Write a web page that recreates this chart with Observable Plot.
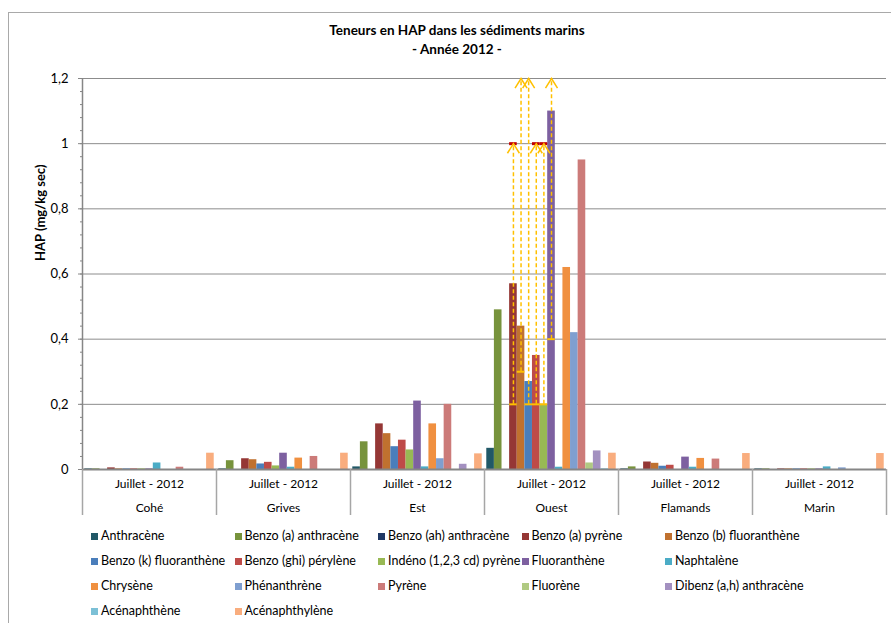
<!DOCTYPE html>
<html>
<head>
<meta charset="utf-8">
<script src="https://cdn.jsdelivr.net/npm/d3@7"></script>
<script src="https://cdn.jsdelivr.net/npm/@observablehq/plot@0.6"></script>
<style>
  body { margin: 0; background: #fff; }
  #wrap { position: relative; width: 891px; height: 623px; overflow: hidden; font-family: Lato, "Open Sans", sans-serif; color: #000; }
  #wrap svg { position: absolute; left: 0; top: 0; }
  #border { position: absolute; left: 8px; top: 12px; width: 1000px; height: 1000px; border-top: 1.5px solid #a9a9a9; border-left: 1.5px solid #a9a9a9; pointer-events: none; }
  #title { position: absolute; left: 0; top: 21px; width: 914px; text-align: center; font-weight: bold; font-size: 13.5px; line-height: 19px; }
  .leg { position: absolute; font-size: 12.5px; line-height: 14px; white-space: nowrap; }
  .leg i { position: absolute; left: 0; top: 3.5px; width: 7px; height: 7px; }
  .leg span { position: absolute; left: 10px; top: 0; }
</style>
</head>
<body>
<div id="wrap">
  <div id="title"></div>
  <div id="legend"></div>
</div>
<script>
// ---- data ----
const titleLines = ["Teneurs en HAP dans les sédiments marins", "- Année 2012 -"];
const yLabel = "HAP (mg/kg sec)";
const periodLabel = "Juillet - 2012";
const sites = ["Cohé", "Grives", "Est", "Ouest", "Flamands", "Marin"];
const compounds = [
  "Anthracène", "Benzo (a) anthracène", "Benzo (ah) anthracène", "Benzo (a) pyrène",
  "Benzo (b) fluoranthène", "Benzo (k) fluoranthène", "Benzo (ghi) pérylène",
  "Indéno (1,2,3 cd) pyrène", "Fluoranthène", "Naphtalène", "Chrysène", "Phénanthrène",
  "Pyrène", "Fluorène", "Dibenz (a,h) anthracène", "Acénaphthène", "Acénaphthylène"
];
const colors = [
  "#215867", "#77933C", "#1F3864", "#953735", "#C0712F", "#4A7EBB", "#BE4B48",
  "#98B954", "#7D60A0", "#4BACC6", "#F09040", "#7F9FD0", "#CC7B79", "#B0CA82",
  "#A390C0", "#7CC0D6", "#F9AD7E"
];
// values per site, in compound order (mg/kg sec)
const valCohe     = [0.002, 0.002, 0, 0.005, 0.002, 0.002, 0.002, 0.002, 0.002, 0.02, 0, 0, 0.007, 0, 0, 0, 0.05];
const valGrives   = [0.002, 0.027, 0, 0.033, 0.03, 0.017, 0.022, 0.011, 0.05, 0.007, 0.035, 0, 0.04, 0, 0, 0, 0.05];
const valEst      = [0.008, 0.085, 0, 0.14, 0.11, 0.07, 0.09, 0.06, 0.21, 0.008, 0.14, 0.033, 0.2, 0, 0.016, 0, 0.048];
const valOuest    = [0.065, 0.49, 0, 0.57, 0.44, 0.27, 0.35, 0.2, 1.1, 0.007, 0.62, 0.42, 0.95, 0.02, 0.057, 0.002, 0.05];
const valFlamands = [0.002, 0.008, 0, 0.023, 0.019, 0.01, 0.013, 0, 0.038, 0.007, 0.034, 0, 0.032, 0, 0, 0, 0.049];
const valMarin    = [0.002, 0.002, 0, 0.002, 0.002, 0.002, 0.002, 0.002, 0.002, 0.008, 0, 0.005, 0, 0, 0, 0, 0.049];
const yTicks = [0, 0.2, 0.4, 0.6, 0.8, 1, 1.2];
// annotation arrows (Ouest)
const annotSite = "Ouest";
const annotCompounds = ["Benzo (a) pyrène", "Benzo (b) fluoranthène", "Benzo (k) fluoranthène", "Benzo (ghi) pérylène", "Indéno (1,2,3 cd) pyrène", "Fluoranthène"];
const annotLow  = [0.2, 0.3, 0.2, 0.2, 0.2, 0.4];
const annotHigh = [1.0, 1.2, 1.2, 1.0, 1.0, 1.2];
const redCompounds = ["Benzo (a) pyrène", "Benzo (ghi) pérylène", "Indéno (1,2,3 cd) pyrène"];
const redLevel = 1.0;

// ---- build ----
const siteValues = [valCohe, valGrives, valEst, valOuest, valFlamands, valMarin];
const rows = [];
sites.forEach((s, i) => compounds.forEach((c, j) => rows.push({site: s, compound: c, value: siteValues[i][j]})));
const annot = annotCompounds.map((c, i) => ({site: annotSite, compound: c, lo: annotLow[i], hi: annotHigh[i]}));
const reds = redCompounds.map(c => ({site: annotSite, compound: c, v: redLevel}));

const W = 891, H = 623, ML = 82, MR = 5, MT = 78, MB = 154, PO = 0.3;
const facetW = (W - ML - MR) / sites.length;
const bw = facetW / (compounds.length + 2 * PO);
const edge = bw * (0.5 + PO);
const plotH = H - MT - MB;

const chevron = {
  draw(ctx, size) {
    const r = Math.sqrt(size / Math.PI);
    ctx.moveTo(-r, r * 1.6);
    ctx.lineTo(0, 0);
    ctx.lineTo(r, r * 1.6);
  }
};

const yfmt = d => String(+d.toFixed(2)).replace(".", ",");

const chart = Plot.plot({
  width: W, height: H,
  marginLeft: ML, marginRight: MR, marginTop: MT, marginBottom: MB,
  style: {fontFamily: "Lato, 'Open Sans', sans-serif", fontSize: "12px", background: "transparent", color: "#000", overflow: "visible"},
  fx: {domain: sites, padding: 0, round: false},
  x: {domain: compounds, paddingInner: 0, paddingOuter: PO, round: false, axis: null},
  y: {domain: [0, 1.2]},
  color: {domain: compounds, range: colors},
  marks: [
    Plot.gridY({ticks: yTicks.slice(1), stroke: "#8c8c8c", strokeOpacity: 1}),
    Plot.barY(rows, {fx: "site", x: "compound", y: "value", fill: "compound"}),
    Plot.ruleY([0], {stroke: "#868686", strokeWidth: 2}),
    // y axis line
    Plot.ruleX([sites[0]], {fx: d => d, x: () => compounds[0], dx: -edge, stroke: "#868686", strokeWidth: 1.5}),
    // category separators below the axis
    Plot.ruleX(sites, {fx: d => d, x: () => compounds[0], dx: -edge, insetTop: plotH, insetBottom: -46, stroke: "#a6a6a6", strokeWidth: 1.5}),
    Plot.ruleX([sites[sites.length - 1]], {fx: d => d, x: () => compounds[compounds.length - 1], dx: edge, insetTop: plotH, insetBottom: -46, stroke: "#a6a6a6", strokeWidth: 1.5}),
    Plot.axisY({interval: 0.04, tickSize: 2, text: null, stroke: "#868686", label: null}),
    Plot.axisY({ticks: yTicks, tickSize: 4, tickPadding: 10, tickFormat: yfmt, fontSize: 13, stroke: "#868686", fill: "#000", label: null}),
    Plot.axisFx({anchor: "bottom", tickSize: 0, tickPadding: 1, lineHeight: 2, fontSize: 12, tickFormat: d => `${periodLabel}\n${d}`, label: null}),
    Plot.text([yLabel], {fx: () => sites[0], frameAnchor: "left", dx: -42, dy: -13, rotate: -90, fontWeight: "bold", fontSize: 13}),
    // annotations
    Plot.ruleX(annot, {fx: "site", x: "compound", y1: "lo", y2: "hi", stroke: "#FFC000", strokeWidth: 1.5, strokeDasharray: "4,2.5"}),
    Plot.tickY(annot, {fx: "site", x: "compound", y: "lo", stroke: "#FFC000", strokeWidth: 2}),
    Plot.tickY(reds, {fx: "site", x: "compound", y: "v", stroke: "#C00000", strokeWidth: 3}),
    Plot.dot(annot, {fx: "site", x: "compound", y: "hi", symbol: chevron, r: 6, stroke: "#FFC000", fill: "none", strokeWidth: 1.5})
  ]
});

const wrap = document.getElementById("wrap");
wrap.insertBefore(chart, wrap.firstChild);
const border = document.createElement("div");
border.id = "border";
wrap.appendChild(border);

document.getElementById("title").innerHTML = titleLines.map(t => `<div>${t}</div>`).join("");

const legend = document.getElementById("legend");
compounds.forEach((c, i) => {
  const col = i % 5, row = Math.floor(i / 5);
  const d = document.createElement("div");
  d.className = "leg";
  d.style.left = (91 + col * 143.5) + "px";
  d.style.top = (536 - 7 + row * 25) + "px";
  d.innerHTML = `<i style="background:${colors[i]}"></i><span>${c}</span>`;
  legend.appendChild(d);
});
</script>
</body>
</html>
